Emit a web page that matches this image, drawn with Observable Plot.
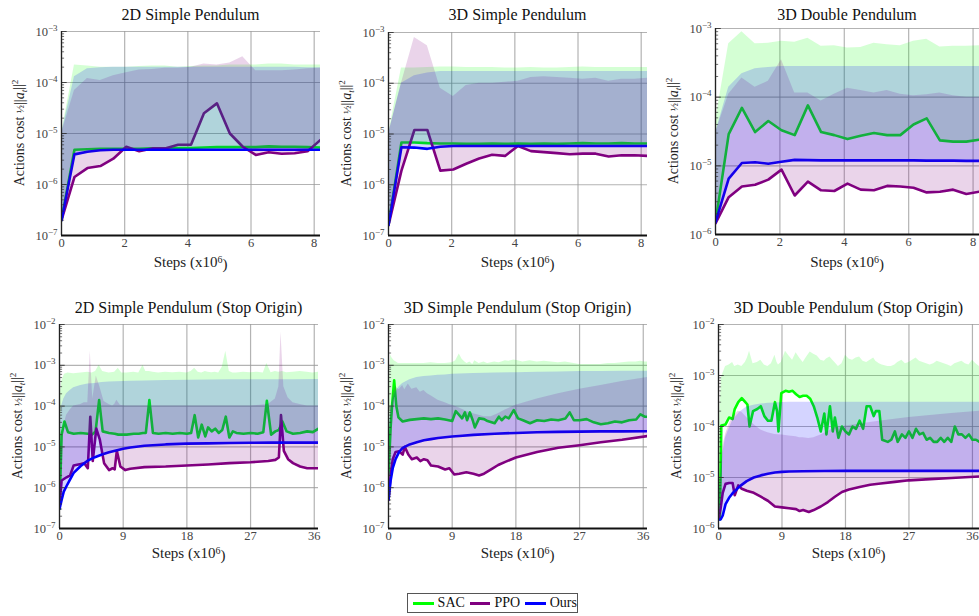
<!DOCTYPE html>
<html>
<head>
<meta charset="utf-8">
<script src="https://cdn.jsdelivr.net/npm/d3@7"></script>
<script src="https://cdn.jsdelivr.net/npm/@observablehq/plot@0.6"></script>
<style>
  body { margin: 0; background: #fff; }
  #wrap { position: relative; width: 979px; height: 616px; overflow: hidden; font-family: "Liberation Serif", "Times New Roman", serif; }
  .panel { position: absolute; }
  .panel svg { display: block; max-width: none !important; overflow: visible !important; font-family: "Liberation Serif", "Times New Roman", serif !important; background: transparent !important; }
  #legend { position: absolute; left: 407px; top: 593px; width: 169px; height: 18px; border: 1px solid #555; display: flex; align-items: center; font-size: 14px; color: #111; box-sizing: content-box; }
  #legend .sw { display: inline-block; width: 21px; height: 3px; margin-left: 5px; margin-right: 4px; }
</style>
</head>
<body>
<div id="wrap"><div id="legend"></div></div>
<script>
// ---------------- DATA ----------------
const seriesNames = ["SAC", "PPO", "Ours"];
const panelTitles = [
  "2D Simple Pendulum", "3D Simple Pendulum", "3D Double Pendulum",
  "2D Simple Pendulum (Stop Origin)", "3D Simple Pendulum (Stop Origin)", "3D Double Pendulum (Stop Origin)"
];
const xTicksTop = [0, 2, 4, 6, 8];
const xTicksBottom = [0, 9, 18, 27, 36];

// Top row: common step grid (x10^6)
const stepsTop = [0, 0.41, 0.82, 1.23, 1.64, 2.05, 2.46, 2.87, 3.28, 3.69, 4.1, 4.51, 4.92, 5.33, 5.74, 6.15, 6.56, 6.97, 7.38, 7.79, 8.2];

// Panel 1: 2D Simple Pendulum
const p1Sac    = [2e-7, 4.8e-6, 4.9e-6, 5e-6, 5e-6, 5e-6, 5e-6, 5.1e-6, 5.1e-6, 5.2e-6, 5.2e-6, 5.3e-6, 5.4e-6, 5.4e-6, 5.4e-6, 5.4e-6, 5.6e-6, 5.5e-6, 5.5e-6, 5.4e-6, 5.3e-6];
const p1SacHi  = [1e-5, 2.2e-4, 2.1e-4, 2e-4, 2e-4, 2e-4, 2.05e-4, 2.1e-4, 2.1e-4, 2e-4, 2.05e-4, 2.1e-4, 2.1e-4, 2.2e-4, 2.2e-4, 2.2e-4, 2.3e-4, 2.3e-4, 2.2e-4, 2.2e-4, 2.2e-4];
const p1Ppo    = [2e-7, 1.4e-6, 2.1e-6, 2.3e-6, 3.2e-6, 5.5e-6, 4.5e-6, 5.1e-6, 5.1e-6, 6e-6, 6e-6, 2.5e-5, 3.9e-5, 1e-5, 5.5e-6, 3.8e-6, 4.3e-6, 4e-6, 4.1e-6, 4.5e-6, 7.5e-6];
const p1PpoHi  = [1e-5, 7e-5, 1.2e-4, 1.1e-4, 1.35e-4, 1.55e-4, 1.75e-4, 1.8e-4, 1.9e-4, 1.9e-4, 2e-4, 2.3e-4, 2.2e-4, 2.4e-4, 3.2e-4, 1.7e-4, 1.7e-4, 1.7e-4, 1.75e-4, 1.85e-4, 1.9e-4];
const p1Ours   = [2e-7, 3.9e-6, 4.4e-6, 4.7e-6, 4.8e-6, 4.8e-6, 4.8e-6, 4.8e-6, 4.8e-6, 4.8e-6, 4.8e-6, 4.8e-6, 4.8e-6, 4.8e-6, 4.8e-6, 4.8e-6, 4.8e-6, 4.8e-6, 4.8e-6, 4.8e-6, 4.8e-6];
const p1OursHi = [1e-5, 1.3e-4, 1.85e-4, 1.95e-4, 2e-4, 2e-4, 2e-4, 2e-4, 2e-4, 2e-4, 2e-4, 2e-4, 2e-4, 2e-4, 2e-4, 2e-4, 2e-4, 2e-4, 2e-4, 1.95e-4, 1.95e-4];

// Panel 2: 3D Simple Pendulum
const p2Sac    = [1.6e-7, 6.8e-6, 6.8e-6, 6.6e-6, 6.5e-6, 6.5e-6, 6.4e-6, 6.4e-6, 6.5e-6, 6.4e-6, 6.5e-6, 6.4e-6, 6.5e-6, 6.4e-6, 6.5e-6, 6.6e-6, 6.5e-6, 6.5e-6, 6.6e-6, 6.5e-6, 6.5e-6];
const p2SacHi  = [1e-5, 2e-4, 2e-4, 2.05e-4, 2.1e-4, 2.1e-4, 2.05e-4, 2.05e-4, 2.05e-4, 2e-4, 2e-4, 2.05e-4, 2e-4, 2e-4, 2.05e-4, 2.1e-4, 2.05e-4, 2.05e-4, 2.05e-4, 2.05e-4, 2.05e-4];
const p2Ppo    = [1.6e-7, 1.9e-6, 1.2e-5, 1.2e-5, 1.9e-6, 2e-6, 2.6e-6, 3.3e-6, 3.9e-6, 3.7e-6, 5.8e-6, 4.6e-6, 4.4e-6, 4.2e-6, 4e-6, 4.1e-6, 4.1e-6, 3.6e-6, 3.8e-6, 3.8e-6, 3.7e-6];
const p2PpoHi  = [1e-5, 1e-4, 8e-4, 5.5e-4, 8e-5, 5.5e-5, 9e-5, 1e-4, 1e-4, 1.05e-4, 1.1e-4, 1.3e-4, 1.35e-4, 1.3e-4, 1.25e-4, 1.2e-4, 1.25e-4, 1.1e-4, 1.2e-4, 1.2e-4, 1.25e-4];
const p2Ours   = [1.6e-7, 5.5e-6, 5.4e-6, 5.1e-6, 5.6e-6, 5.8e-6, 5.8e-6, 5.8e-6, 5.8e-6, 5.8e-6, 5.8e-6, 5.8e-6, 5.8e-6, 5.8e-6, 5.8e-6, 5.8e-6, 5.8e-6, 5.8e-6, 5.8e-6, 5.8e-6, 5.8e-6];
const p2OursHi = [1e-5, 1e-4, 1.4e-4, 1.6e-4, 1.7e-4, 1.7e-4, 1.7e-4, 1.7e-4, 1.7e-4, 1.7e-4, 1.7e-4, 1.7e-4, 1.7e-4, 1.7e-4, 1.7e-4, 1.7e-4, 1.7e-4, 1.7e-4, 1.7e-4, 1.7e-4, 1.7e-4];

// Panel 3: 3D Double Pendulum
const p3Sac    = [1.5e-6, 2.9e-5, 7e-5, 3.1e-5, 4.5e-5, 3.3e-5, 2.8e-5, 7.6e-5, 3.1e-5, 2.8e-5, 2.45e-5, 2.75e-5, 3e-5, 2.8e-5, 2.8e-5, 4e-5, 4.9e-5, 2.35e-5, 2.25e-5, 2.25e-5, 2.4e-5];
const p3SacHi  = [4.5e-5, 6e-4, 9e-4, 6e-4, 6.1e-4, 6.5e-4, 6.3e-4, 7.2e-4, 5.5e-4, 5.6e-4, 5.2e-4, 5.3e-4, 6.1e-4, 5.8e-4, 5.6e-4, 6.5e-4, 7e-4, 5.4e-4, 5.5e-4, 5.5e-4, 5.6e-4];
const p3Ppo    = [1.45e-6, 3.5e-6, 5e-6, 5.3e-6, 6.3e-6, 8.8e-6, 3.7e-6, 5.9e-6, 4.4e-6, 4.3e-6, 5.5e-6, 4.5e-6, 4.4e-6, 5.1e-6, 5e-6, 4.8e-6, 4.1e-6, 4.2e-6, 4.5e-6, 3.9e-6, 4.2e-6];
const p3PpoHi  = [3e-5, 1.1e-4, 1.9e-4, 1.4e-4, 1.7e-4, 3.5e-4, 1.15e-4, 1.15e-4, 8.8e-5, 1.1e-4, 1.35e-4, 1.25e-4, 1.15e-4, 1.25e-4, 1.1e-4, 1.05e-4, 1.08e-4, 1.15e-4, 1.05e-4, 1e-4, 1e-4];
const p3Ours   = [1.5e-6, 6.5e-6, 1.1e-5, 1.13e-5, 1.07e-5, 1.15e-5, 1.22e-5, 1.21e-5, 1.2e-5, 1.2e-5, 1.2e-5, 1.2e-5, 1.2e-5, 1.2e-5, 1.2e-5, 1.2e-5, 1.19e-5, 1.19e-5, 1.19e-5, 1.18e-5, 1.18e-5];
const p3OursHi = [3e-5, 1.4e-4, 2.2e-4, 2.6e-4, 2.7e-4, 2.8e-4, 2.8e-4, 2.8e-4, 2.8e-4, 2.8e-4, 2.8e-4, 2.8e-4, 2.8e-4, 2.8e-4, 2.8e-4, 2.8e-4, 2.8e-4, 2.8e-4, 2.8e-4, 2.8e-4, 2.8e-4];

// Panel 4: 2D Simple Pendulum (Stop Origin)
const p4SacX   = [0, 0.3, 0.7, 1.2, 2, 3, 4, 4.6, 5.1, 5.6, 6.1, 7, 7.8, 8.3, 8.8, 9.5, 10.5, 11.2, 11.8, 12.2, 12.7, 13.2, 14, 15, 16, 17, 18, 18.6, 19.1, 19.6, 20.1, 20.6, 21, 21.5, 22, 22.5, 23, 23.5, 24, 24.5, 25, 26, 27, 28, 28.8, 29.3, 29.9, 30.5, 31, 31.5, 32.1, 33, 34, 35, 35.8, 36.6];
const p4Sac    = [3e-7, 2e-5, 4.2e-5, 2.3e-5, 2.1e-5, 2.2e-5, 2.1e-5, 2.0e-5, 2.4e-5, 1.4e-4, 2.4e-5, 2.2e-5, 2.1e-5, 2.0e-5, 2.0e-5, 2.0e-5, 2.1e-5, 2.1e-5, 2.2e-5, 2.2e-5, 1.4e-4, 2.2e-5, 2.1e-5, 2.2e-5, 2.1e-5, 2.2e-5, 2.1e-5, 2.2e-5, 6e-5, 1.7e-5, 3.5e-5, 1.8e-5, 3e-5, 2.4e-5, 2.8e-5, 2.2e-5, 2.6e-5, 5.5e-5, 1.7e-5, 2.4e-5, 2.2e-5, 2.1e-5, 2.2e-5, 2.1e-5, 2.3e-5, 1.35e-4, 2e-5, 2.4e-5, 2.6e-5, 4.2e-5, 2.4e-5, 2.1e-5, 2.2e-5, 2.4e-5, 2.3e-5, 2.8e-5];
const p4SacHi  = [1e-4, 4e-4, 6e-4, 6.5e-4, 6.2e-4, 6.5e-4, 6.8e-4, 6.5e-4, 7e-4, 1e-3, 7e-4, 6.5e-4, 6.8e-4, 8.5e-4, 6.5e-4, 6.5e-4, 6.8e-4, 6.5e-4, 1e-3, 7e-4, 7e-4, 6.8e-4, 6.5e-4, 6.8e-4, 6.6e-4, 6.8e-4, 6.5e-4, 7e-4, 8.5e-4, 6.8e-4, 6.5e-4, 7e-4, 6.8e-4, 6.6e-4, 6.8e-4, 6.5e-4, 9e-4, 2.2e-3, 7e-4, 6.5e-4, 6.5e-4, 6.8e-4, 6.6e-4, 6.8e-4, 6.5e-4, 1.1e-3, 6.6e-4, 7e-4, 6.8e-4, 7e-4, 6.6e-4, 6.8e-4, 7e-4, 6.8e-4, 6.5e-4, 6.8e-4];
const p4PpoX   = [0, 0.3, 1, 1.5, 2, 3, 3.5, 4, 4.35, 4.7, 5.2, 5.7, 6.3, 7, 7.5, 7.8, 8.1, 8.6, 9.3, 10, 12, 15, 18, 21, 24, 27, 29.5, 30.5, 31, 31.3, 31.7, 32.3, 33, 34, 35, 36.6];
const p4Ppo    = [4e-7, 1.5e-6, 1.8e-6, 2e-6, 3.5e-6, 3.8e-6, 4e-6, 3e-6, 5.5e-5, 4.5e-6, 2.8e-5, 1.5e-5, 4e-6, 2.7e-6, 3e-6, 2.8e-6, 8e-6, 3.3e-6, 2.7e-6, 2.9e-6, 3.2e-6, 3.3e-6, 3.5e-6, 3.7e-6, 4e-6, 4.2e-6, 4.5e-6, 4.8e-6, 5.5e-6, 6e-5, 8e-6, 5e-6, 4e-6, 3.3e-6, 3e-6, 3e-6];
const p4PpoHi  = [3e-6, 2e-5, 6e-5, 8e-5, 1e-4, 1.1e-4, 1.2e-4, 1.2e-4, 2.2e-3, 1.5e-4, 5.5e-4, 3e-4, 1.3e-4, 1.1e-4, 1e-4, 1.1e-4, 1.4e-4, 1.05e-4, 1e-4, 1e-4, 1e-4, 1e-4, 1e-4, 1e-4, 1e-4, 1e-4, 1.1e-4, 1.5e-4, 3e-4, 6.5e-3, 3e-4, 1.6e-4, 1.2e-4, 1.1e-4, 1e-4, 1e-4];
const oursXLong = [0, 0.3, 0.6, 1, 1.5, 2, 3, 4, 5, 6, 7, 8, 9, 10, 12, 15, 18, 21, 24, 27, 30, 33, 36.6];
const p4Ours   = [3e-7, 5e-7, 8e-7, 1.1e-6, 1.6e-6, 2.3e-6, 3.4e-6, 4.6e-6, 5.6e-6, 6.5e-6, 7.4e-6, 8.2e-6, 9e-6, 9.7e-6, 1.07e-5, 1.15e-5, 1.2e-5, 1.22e-5, 1.25e-5, 1.26e-5, 1.27e-5, 1.27e-5, 1.27e-5];
const p4OursHi = [2e-5, 1e-4, 1.5e-4, 2e-4, 2.4e-4, 2.8e-4, 3.2e-4, 3.5e-4, 3.6e-4, 3.8e-4, 3.9e-4, 3.95e-4, 4e-4, 4.05e-4, 4.15e-4, 4.25e-4, 4.3e-4, 4.35e-4, 4.4e-4, 4.4e-4, 4.45e-4, 4.45e-4, 4.5e-4];

// Panel 5: 3D Simple Pendulum (Stop Origin)
const p5SacX   = [0, 0.3, 0.5, 0.8, 1.1, 1.4, 2, 3, 4, 5, 6, 7, 8, 9, 9.5, 10, 10.4, 10.8, 11.1, 11.5, 11.9, 12.2, 12.8, 13.5, 14, 15, 15.6, 16, 16.5, 17, 17.7, 18.3, 19, 20, 21, 22, 23, 24, 25, 25.6, 26.2, 27, 28, 29, 30, 31, 32, 33, 34, 35, 35.6, 36.2, 36.6];
const p5Sac    = [2e-6, 3e-5, 1e-4, 4.3e-4, 1e-4, 5.3e-5, 4.2e-5, 4.6e-5, 4.8e-5, 5e-5, 4.8e-5, 5e-5, 4.7e-5, 4.3e-5, 7.5e-5, 6e-5, 5e-5, 7e-5, 4.5e-5, 7e-5, 4.5e-5, 3e-5, 5e-5, 4.8e-5, 4.3e-5, 3.8e-5, 5.5e-5, 4.5e-5, 5.5e-5, 5e-5, 8e-5, 5e-5, 4.5e-5, 3.8e-5, 4.5e-5, 4.3e-5, 4.7e-5, 4.5e-5, 5e-5, 7e-5, 4.5e-5, 4.5e-5, 4.8e-5, 4e-5, 3.6e-5, 3.8e-5, 4.2e-5, 4e-5, 4.5e-5, 4.7e-5, 6.3e-5, 5.5e-5, 5.5e-5];
const p5SacHi  = [1e-4, 1.8e-3, 1.5e-3, 1.3e-3, 1.2e-3, 1.1e-3, 1.1e-3, 1.1e-3, 1.1e-3, 1.1e-3, 1.15e-3, 1.1e-3, 1.1e-3, 1.15e-3, 1.3e-3, 1.9e-3, 1.4e-3, 1.2e-3, 1.1e-3, 1.2e-3, 1.05e-3, 1.3e-3, 1.1e-3, 1.2e-3, 1.1e-3, 1.2e-3, 1.15e-3, 1.2e-3, 1.3e-3, 1.25e-3, 1.35e-3, 1.3e-3, 1.2e-3, 1.3e-3, 1.2e-3, 1.25e-3, 1.2e-3, 1.15e-3, 1.2e-3, 1.15e-3, 1.1e-3, 1.05e-3, 1.05e-3, 1.05e-3, 1.05e-3, 1.1e-3, 1.1e-3, 1.15e-3, 1.2e-3, 1.2e-3, 1.25e-3, 1.2e-3, 1.2e-3];
const p5PpoX   = [0, 0.3, 0.6, 1, 1.5, 2, 2.3, 2.8, 3.3, 4, 4.5, 5, 5.5, 6, 7, 8, 8.6, 9.3, 10, 11, 12, 12.8, 13.5, 14.5, 15.5, 16.5, 18, 21, 24, 27, 30, 33, 36.6];
const p5Ppo    = [5e-7, 2e-6, 5e-6, 7.5e-6, 7.8e-6, 6.5e-6, 1e-5, 6.5e-6, 5e-6, 5.5e-6, 4.5e-6, 5e-6, 4.7e-6, 3.5e-6, 3.3e-6, 2.8e-6, 3e-6, 2.1e-6, 2.2e-6, 2.4e-6, 2.2e-6, 2e-6, 2.2e-6, 2.8e-6, 3.6e-6, 4.3e-6, 5.5e-6, 7.5e-6, 9.5e-6, 1.1e-5, 1.3e-5, 1.5e-5, 1.85e-5];
const p5PpoHi  = [3e-6, 5e-5, 2e-4, 3e-4, 2.5e-4, 3.2e-4, 2.5e-4, 3.5e-4, 2.6e-4, 2.8e-4, 2.2e-4, 2.4e-4, 2e-4, 1.8e-4, 1.4e-4, 1.2e-4, 1.1e-4, 1e-4, 9e-5, 7.5e-5, 6.5e-5, 6e-5, 5.5e-5, 5.5e-5, 6.5e-5, 8e-5, 1.05e-4, 1.5e-4, 2e-4, 2.6e-4, 3.2e-4, 4e-4, 5e-4];
const p5Ours   = [5e-7, 1.5e-6, 3e-6, 5e-6, 7.5e-6, 9.5e-6, 1.15e-5, 1.3e-5, 1.45e-5, 1.55e-5, 1.65e-5, 1.72e-5, 1.8e-5, 1.85e-5, 1.97e-5, 2.1e-5, 2.2e-5, 2.28e-5, 2.33e-5, 2.37e-5, 2.4e-5, 2.4e-5, 2.42e-5];
const p5OursHi = [2e-5, 8e-5, 1.5e-4, 2.2e-4, 3e-4, 3.6e-4, 4.4e-4, 5e-4, 5.3e-4, 5.5e-4, 5.7e-4, 5.8e-4, 6e-4, 6.1e-4, 6.3e-4, 6.5e-4, 6.6e-4, 6.8e-4, 6.9e-4, 7e-4, 7e-4, 7.1e-4, 7.1e-4];

// Panel 6: 3D Double Pendulum (Stop Origin)
const p6SacX   = [0, 0.2, 0.4, 1, 1.5, 2, 2.3, 2.8, 3.3, 3.8, 4.1, 4.4, 4.9, 5.5, 6, 6.5, 7, 7.5, 8, 8.3, 8.5, 8.9, 9.5, 10, 10.5, 11, 11.5, 12, 12.5, 13, 13.5, 14, 14.5, 15, 15.3, 15.8, 16.2, 16.5, 17, 17.5, 18, 18.5, 19, 19.5, 20, 20.5, 21, 21.5, 22, 22.3, 22.8, 23.2, 24, 24.5, 25, 25.4, 26, 26.5, 27, 27.5, 28, 28.5, 29, 29.5, 30, 30.5, 31, 31.5, 32, 32.5, 33, 33.5, 34, 34.5, 35, 35.5, 36, 36.5, 37];
const p6Sac    = [1.5e-6, 1.5e-6, 1.05e-4, 1.1e-4, 1.5e-4, 1.4e-4, 2.2e-4, 3e-4, 3.6e-4, 3e-4, 2.7e-4, 1e-4, 2e-4, 2.2e-4, 2.5e-4, 1.6e-4, 1.3e-4, 1.3e-4, 3e-4, 2e-4, 8e-5, 4.5e-4, 5e-4, 4.8e-4, 5e-4, 4.3e-4, 3.8e-4, 4e-4, 4e-4, 3.5e-4, 2.5e-4, 1.5e-4, 8e-5, 1.8e-4, 7e-5, 2.5e-4, 8e-5, 1.5e-4, 6e-5, 1e-4, 8e-5, 7e-5, 1e-4, 9e-5, 1.3e-4, 9e-5, 2.5e-4, 2.5e-4, 1.6e-4, 2e-4, 2e-4, 5.5e-5, 5e-5, 5.5e-5, 8e-5, 5e-5, 7e-5, 6e-5, 8e-5, 6e-5, 9e-5, 7e-5, 7.5e-5, 5.5e-5, 6e-5, 5e-5, 5e-5, 6e-5, 5e-5, 6e-5, 5e-5, 1e-4, 7e-5, 7e-5, 6e-5, 7e-5, 5.5e-5, 5.5e-5, 5e-5];
const p6SacHi  = [3e-5, 2e-4, 9e-4, 1.5e-3, 1.6e-3, 1.8e-3, 1.5e-3, 1.6e-3, 1.5e-3, 1.8e-3, 2.2e-3, 3e-3, 1.7e-3, 1.8e-3, 2e-3, 1.6e-3, 1.5e-3, 1.7e-3, 2.5e-3, 1.8e-3, 1.6e-3, 1.8e-3, 3e-3, 2.4e-3, 2e-3, 2.8e-3, 2.2e-3, 1.8e-3, 2.3e-3, 2.9e-3, 2.6e-3, 2.4e-3, 2e-3, 1.9e-3, 2.1e-3, 2.3e-3, 2e-3, 1.8e-3, 1.5e-3, 1.7e-3, 2.5e-3, 2.1e-3, 2e-3, 2.2e-3, 2.3e-3, 1.9e-3, 1.8e-3, 2e-3, 2.2e-3, 1.9e-3, 1.7e-3, 1.6e-3, 1.5e-3, 1.5e-3, 1.6e-3, 1.8e-3, 2e-3, 1.7e-3, 1.8e-3, 2e-3, 2.2e-3, 1.9e-3, 1.8e-3, 1.7e-3, 1.6e-3, 1.7e-3, 1.9e-3, 1.8e-3, 1.7e-3, 1.6e-3, 1.5e-3, 1.7e-3, 1.8e-3, 1.9e-3, 1.7e-3, 1.6e-3, 2e-3, 1.7e-3, 1.5e-3];
const p6PpoX   = [0, 0.3, 0.6, 1, 1.5, 2, 2.3, 2.8, 3.3, 4, 5, 6, 7, 8, 9, 10, 11, 11.5, 12, 12.8, 13.5, 14.5, 15.5, 16.5, 17.5, 18.5, 20, 21.5, 23, 25, 27, 30, 33, 37];
const p6Ppo    = [1.5e-6, 2.5e-6, 5e-6, 7.5e-6, 7.8e-6, 7.8e-6, 4.5e-6, 7e-6, 6e-6, 5.5e-6, 5e-6, 4.2e-6, 3.5e-6, 2.7e-6, 2.6e-6, 2.5e-6, 2.4e-6, 2.2e-6, 2.3e-6, 2.1e-6, 2.3e-6, 2.7e-6, 3.3e-6, 4.2e-6, 5.2e-6, 5.8e-6, 6.5e-6, 7.2e-6, 7.6e-6, 8.2e-6, 8.8e-6, 9.3e-6, 9.8e-6, 1.05e-5];
const p6PpoHi  = [3e-6, 1e-5, 4e-5, 7e-5, 1.1e-4, 1.5e-4, 1.7e-4, 2e-4, 1.9e-4, 1.5e-4, 1.1e-4, 8.5e-5, 7.5e-5, 7e-5, 6.8e-5, 6.5e-5, 6.3e-5, 6e-5, 6e-5, 5.8e-5, 6e-5, 6.8e-5, 8e-5, 9.5e-5, 1e-4, 1.05e-4, 1.12e-4, 1.2e-4, 1.28e-4, 1.38e-4, 1.5e-4, 1.65e-4, 1.8e-4, 2e-4];
const p6OursX  = [0, 0.3, 0.6, 1, 1.5, 2, 3, 4, 5, 6, 7, 8, 9, 10, 12, 15, 18, 21, 24, 27, 30, 33, 37];
const p6Ours   = [1.5e-6, 1.5e-6, 1.8e-6, 3e-6, 4e-6, 4.9e-6, 6.7e-6, 8.5e-6, 1e-5, 1.1e-5, 1.18e-5, 1.25e-5, 1.29e-5, 1.31e-5, 1.33e-5, 1.34e-5, 1.35e-5, 1.35e-5, 1.35e-5, 1.35e-5, 1.35e-5, 1.35e-5, 1.35e-5];
const p6OursHi = [3e-6, 1e-5, 3e-5, 6e-5, 9e-5, 1.3e-4, 1.9e-4, 2.4e-4, 2.6e-4, 2.75e-4, 2.85e-4, 2.9e-4, 2.95e-4, 3e-4, 3e-4, 3e-4, 3e-4, 3e-4, 3e-4, 3e-4, 3e-4, 3e-4, 3e-4];

// ---------------- STYLE / LAYOUT ----------------
const seriesColors = {SAC: "#00ff00", PPO: "#800080", Ours: "#0000ff"};
const FONT = '"Liberation Serif", "Times New Roman", serif';

function rows(xs, mean, hi) {
  return xs.map((x, i) => ({x, mean: mean[i], hi: hi[i]}));
}

const panels = [
  {title: panelTitles[0], left: 0,   top: 0,   width: 320, height: 280, mL: 61, mT: 31, mB: 45, xmax: 8.2, ymin: 1e-7, ymax: 1e-3, xTicks: xTicksTop, titleY: 20, xLabelY: 267,
   series: {SAC: rows(stepsTop, p1Sac, p1SacHi), PPO: rows(stepsTop, p1Ppo, p1PpoHi), Ours: rows(stepsTop, p1Ours, p1OursHi)}},
  {title: panelTitles[1], left: 327, top: 0,   width: 320, height: 280, mL: 61, mT: 32, mB: 45, xmax: 8.2, ymin: 1e-7, ymax: 1e-3, xTicks: xTicksTop, titleY: 20, xLabelY: 267,
   series: {SAC: rows(stepsTop, p2Sac, p2SacHi), PPO: rows(stepsTop, p2Ppo, p2PpoHi), Ours: rows(stepsTop, p2Ours, p2OursHi)}},
  {title: panelTitles[2], left: 654, top: 0,   width: 325, height: 280, mL: 61, mT: 28, mB: 46, xmax: 8.2, ymin: 1e-6, ymax: 1e-3, xTicks: xTicksTop, titleY: 20, xLabelY: 267,
   series: {SAC: rows(stepsTop, p3Sac, p3SacHi), PPO: rows(stepsTop, p3Ppo, p3PpoHi), Ours: rows(stepsTop, p3Ours, p3OursHi)}},
  {title: panelTitles[3], left: 0,   top: 290, width: 318, height: 290, mL: 59, mT: 34, mB: 52, xmax: 36.6, ymin: 1e-7, ymax: 1e-2, xTicks: xTicksBottom, titleY: 23, xLabelY: 268,
   series: {SAC: rows(p4SacX, p4Sac, p4SacHi), PPO: rows(p4PpoX, p4Ppo, p4PpoHi), Ours: rows(oursXLong, p4Ours, p4OursHi)}},
  {title: panelTitles[4], left: 327, top: 290, width: 320, height: 290, mL: 61, mT: 34, mB: 52, xmax: 36.6, ymin: 1e-7, ymax: 1e-2, xTicks: xTicksBottom, titleY: 23, xLabelY: 268,
   series: {SAC: rows(p5SacX, p5Sac, p5SacHi), PPO: rows(p5PpoX, p5Ppo, p5PpoHi), Ours: rows(oursXLong, p5Ours, p5OursHi)}},
  {title: panelTitles[5], left: 657, top: 290, width: 322, height: 290, mL: 61, mT: 34, mB: 52, xmax: 37, ymin: 1e-6, ymax: 1e-2, xTicks: xTicksBottom, titleY: 23, xLabelY: 268,
   series: {SAC: rows(p6SacX, p6Sac, p6SacHi), PPO: rows(p6PpoX, p6Ppo, p6PpoHi), Ours: rows(p6OursX, p6Ours, p6OursHi)}}
];

const wrap = document.getElementById("wrap");
const NS = "http://www.w3.org/2000/svg";

panels.forEach(cfg => {
  const e0 = Math.round(Math.log10(cfg.ymin)), e1 = Math.round(Math.log10(cfg.ymax));
  const decades = d3.range(e0, e1 + 1).map(e => Math.pow(10, e));
  const minors = [];
  for (let e = e0; e < e1; e++) for (let k = 2; k <= 9; k++) minors.push(k * Math.pow(10, e));

  const lineMarks = seriesNames.map(n => Plot.line(cfg.series[n], {x: "x", y: "mean", stroke: seriesColors[n], strokeWidth: 2.6, strokeLinejoin: "round", clip: true}));
  const areaMarks = seriesNames.map(n => Plot.areaY(cfg.series[n], {x: "x", y1: "mean", y2: "hi", fill: seriesColors[n], fillOpacity: 0.17, clip: true}));

  const svg = Plot.plot({
    width: cfg.width, height: cfg.height,
    marginLeft: cfg.mL, marginRight: 0, marginTop: cfg.mT, marginBottom: cfg.mB,
    style: {fontSize: "12.5px", color: "#444", background: "transparent", overflow: "visible"},
    x: {domain: [0, cfg.xmax]},
    y: {type: "log", domain: [cfg.ymin, cfg.ymax]},
    marks: [
      Plot.ruleX(cfg.xTicks, {stroke: "#9a9a9a", strokeOpacity: 0.75, strokeWidth: 1.2}),
      Plot.ruleY(decades, {stroke: "#9a9a9a", strokeOpacity: 0.75, strokeWidth: 1.2}),
      ...lineMarks,
      ...areaMarks,
      Plot.ruleY(minors, {x1: 0, x2: cfg.xmax * 0.012, stroke: "#333", strokeWidth: 0.7}),
      Plot.ruleY(decades, {x1: 0, x2: cfg.xmax * 0.022, stroke: "#333", strokeWidth: 0.9}),
      Plot.ruleX([0], {stroke: "#222", strokeWidth: 1.3}),
      Plot.ruleY([cfg.ymin], {stroke: "#111", strokeWidth: 2}),
      Plot.axisX(cfg.xTicks, {tickSize: 0, tickPadding: 3, label: null}),
      Plot.axisY(decades, {tickSize: 0, tickPadding: 4, label: null, tickFormat: d => "10^" + Math.round(Math.log10(d))})
    ]
  });

  // serif everywhere
  svg.querySelectorAll("text").forEach(t => t.setAttribute("font-family", FONT));

  // superscript exponents on y tick labels
  svg.querySelectorAll('g[aria-label="y-axis tick label"] text').forEach(t => {
    const s = t.textContent;
    if (!s.includes("^")) return;
    const [b, e] = s.split("^");
    t.textContent = b;
    const ts = document.createElementNS(NS, "tspan");
    ts.setAttribute("dy", "-0.55em");
    ts.setAttribute("font-size", "9");
    ts.textContent = e.replace("-", "\u2212");
    t.appendChild(ts);
  });

  const plotW = cfg.width - cfg.mL;
  const plotH = cfg.height - cfg.mT - cfg.mB;
  const s = d3.select(svg);

  s.append("text")
    .attr("x", cfg.mL + plotW / 2).attr("y", cfg.titleY)
    .attr("text-anchor", "middle").attr("font-size", 16).attr("fill", "#111")
    .attr("font-family", FONT)
    .text(cfg.title);

  const xl = s.append("text")
    .attr("x", cfg.mL + plotW / 2).attr("y", cfg.xLabelY)
    .attr("text-anchor", "middle").attr("font-size", 15).attr("fill", "#222")
    .attr("font-family", FONT);
  xl.append("tspan").text("Steps (x10");
  xl.append("tspan").attr("dy", "-0.45em").attr("font-size", 10).text("6");
  xl.append("tspan").attr("dy", "0.45em").text(")");

  const cy = cfg.mT + plotH / 2;
  const yl = s.append("text")
    .attr("transform", `translate(${cfg.mL - 37},${cy}) rotate(-90)`)
    .attr("text-anchor", "middle").attr("font-size", 14).attr("fill", "#222")
    .attr("font-family", FONT);
  yl.append("tspan").text("Actions cost ");
  yl.append("tspan").attr("font-size", 11).text("\u00BD");
  yl.append("tspan").text("||");
  yl.append("tspan").attr("font-style", "italic").text("a");
  yl.append("tspan").attr("dy", "0.3em").attr("font-size", 9).attr("font-style", "italic").text("t");
  yl.append("tspan").attr("dy", "-0.3em").text("||");
  yl.append("tspan").attr("dy", "-0.45em").attr("font-size", 9).text("2");

  const div = document.createElement("div");
  div.className = "panel";
  div.style.left = cfg.left + "px";
  div.style.top = cfg.top + "px";
  div.style.width = cfg.width + "px";
  div.style.height = cfg.height + "px";
  div.appendChild(svg);
  wrap.appendChild(div);
});

// legend
const legend = document.getElementById("legend");
seriesNames.forEach(n => {
  const sw = document.createElement("span");
  sw.className = "sw";
  sw.style.background = seriesColors[n];
  legend.appendChild(sw);
  const lab = document.createElement("span");
  lab.textContent = n;
  legend.appendChild(lab);
});
</script>
</body>
</html>
